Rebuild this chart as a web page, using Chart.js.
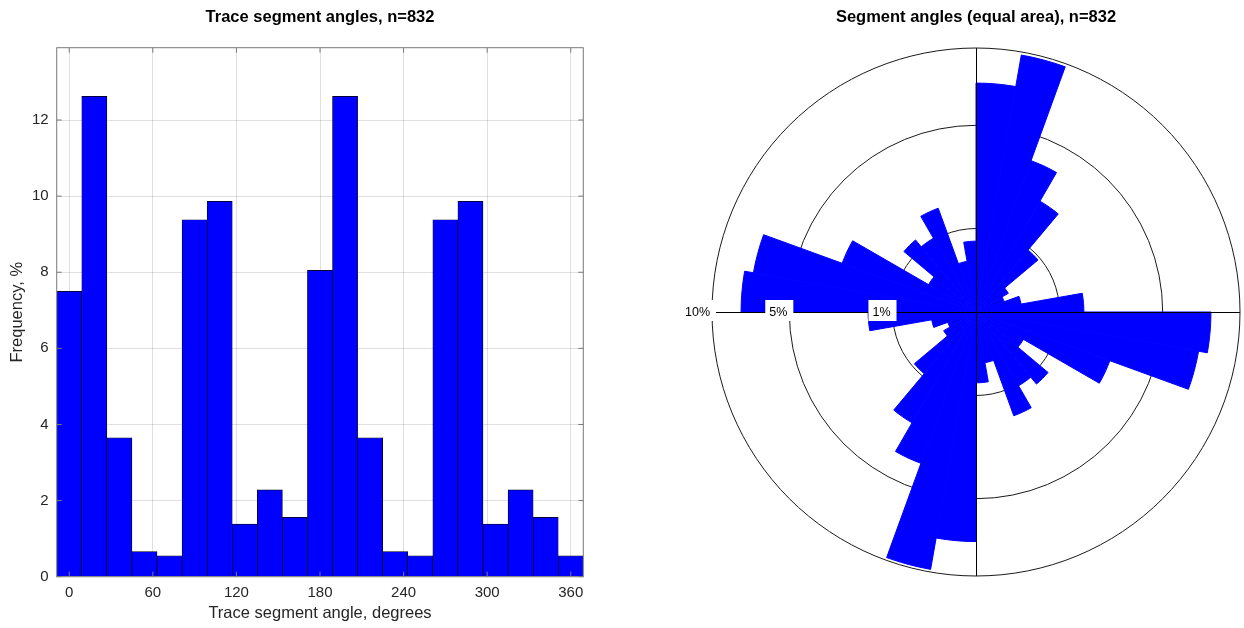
<!DOCTYPE html>
<html><head><meta charset="utf-8">
<script src="https://cdn.jsdelivr.net/npm/chart.js@4.4.0/dist/chart.umd.min.js"></script>
<style>
html,body{margin:0;padding:0;background:#fff;}
body{width:1244px;height:628px;position:relative;overflow:hidden;}
canvas{position:absolute;top:0;}
#hist{left:0;}
#rose{left:620px;}
</style></head><body>
<canvas id="hist" width="640" height="628"></canvas>
<canvas id="rose" width="624" height="628"></canvas>
<script>
const FONT = "'Liberation Sans', Arial, Helvetica, sans-serif";

// ---- data ----
const histTitle = 'Trace segment angles, n=832';
const roseTitle = 'Segment angles (equal area), n=832';
const xAxisLabel = 'Trace segment angle, degrees';
const yAxisLabel = 'Frequency, %';

const histBinCenters = [0, 18, 36, 54, 72, 90, 108, 126, 144, 162, 180, 198, 216, 234, 252, 270, 288, 306, 324, 342, 360];
const histValues     = [7.5, 12.62, 3.65, 0.66, 0.55, 9.38, 9.86, 1.38, 2.28, 1.56, 8.05, 12.62, 3.65, 0.66, 0.55, 9.38, 9.86, 1.38, 2.28, 1.56, 0.55];
const xTickValues = [0, 60, 120, 180, 240, 300, 360];
const yTickValues = [0, 2, 4, 6, 8, 10, 12];

const roseBinStarts = [0, 10, 20, 30, 40, 50, 60, 70, 80, 90, 100, 110, 120, 130, 140, 150, 160, 170,
                       180, 190, 200, 210, 220, 230, 240, 250, 260, 270, 280, 290, 300, 310, 320, 330, 340, 350];
const roseValues = [7.52, 9.77, 3.72, 2.35, 0.94, 0.20, 0.13, 0.30, 1.67, 7.92, 7.33, 2.91, 0.43, 1.27, 1.04, 1.75, 0.38, 0.72,
                    7.56, 9.80, 3.72, 2.35, 0.93, 0.20, 0.13, 0.29, 1.67, 7.92, 7.33, 2.91, 0.43, 1.27, 1.04, 1.75, 0.38, 0.72];
const roseRingValues = [1, 5, 10];
const roseRingLabels = ['1%', '5%', '10%'];

// ---- histogram ----
const matlabBox = {
  id: 'matlabBox',
  afterDatasetsDraw(chart) {
    const {ctx, chartArea: a} = chart;
    const x = chart.scales.x, y = chart.scales.y;
    ctx.save();
    ctx.strokeStyle = '#7a7a7a';
    ctx.lineWidth = 1;
    ctx.strokeRect(a.left, a.top, a.right - a.left, a.bottom - a.top);
    ctx.beginPath();
    const L = 5;
    x.ticks.forEach(t => {
      const px = x.getPixelForValue(t.value);
      ctx.moveTo(px, a.bottom); ctx.lineTo(px, a.bottom - L);
      ctx.moveTo(px, a.top); ctx.lineTo(px, a.top + L);
    });
    y.ticks.forEach(t => {
      const py = y.getPixelForValue(t.value);
      ctx.moveTo(a.left, py); ctx.lineTo(a.left + L, py);
      ctx.moveTo(a.right, py); ctx.lineTo(a.right - L, py);
    });
    ctx.stroke();
    ctx.restore();
  }
};

new Chart(document.getElementById('hist'), {
  type: 'bar',
  data: {
    datasets: [{
      data: histBinCenters.map((c, i) => ({x: c, y: histValues[i]})),
      backgroundColor: '#0000ff',
      borderColor: '#000000',
      borderWidth: 0.7,
      barPercentage: 1,
      categoryPercentage: 1
    }]
  },
  options: {
    responsive: false,
    animation: false,
    events: [],
    layout: {padding: 0},
    plugins: {
      legend: {display: false},
      tooltip: {enabled: false},
      title: {
        display: true, text: histTitle, color: '#000',
        font: {family: FONT, size: 16.5, weight: 'bold'},
        padding: {top: 7.6, bottom: 20.3}
      }
    },
    scales: {
      x: {
        type: 'linear', min: -9, max: 369, offset: false,
        grid: {offset: false, color: 'rgba(38,38,38,0.15)', drawTicks: false},
        border: {display: false},
        ticks: {font: {family: FONT, size: 15}, color: '#262626', padding: 7, maxRotation: 0, autoSkip: false},
        afterBuildTicks: s => { s.ticks = xTickValues.map(v => ({value: v})); },
        afterFit: s => { s.height = 51.3; },
        title: {display: true, text: xAxisLabel, color: '#262626', font: {family: FONT, size: 16.5}, padding: {top: 0, bottom: 5}}
      },
      y: {
        type: 'linear', min: 0, max: 13.9,
        grid: {color: 'rgba(38,38,38,0.15)', drawTicks: false},
        border: {display: false},
        ticks: {font: {family: FONT, size: 15}, color: '#262626', padding: 8},
        afterBuildTicks: s => { s.ticks = yTickValues.map(v => ({value: v})); },
        afterFit: s => { s.width = 56.7; },
        title: {display: true, text: yAxisLabel, color: '#262626', font: {family: FONT, size: 16.5}, padding: {top: 8, bottom: 0}}
      },
      y2: {
        axis: 'y', type: 'linear', position: 'right', display: true,
        grid: {display: false}, border: {display: false}, ticks: {display: false},
        afterFit: s => { s.width = 56.7; }
      }
    }
  },
  plugins: [matlabBox]
});

// ---- rose (equal area: radius ~ sqrt(percent)) ----
const roseOverlay = {
  id: 'roseOverlay',
  afterDatasetsDraw(chart) {
    const r = chart.scales.r, ctx = chart.ctx;
    const cx = r.xCenter, cy = r.yCenter;
    const R = r.getDistanceFromCenterForValue(r.max);
    ctx.save();
    ctx.strokeStyle = '#000';
    ctx.lineWidth = 1;
    ctx.beginPath();
    ctx.moveTo(cx - R, cy + 0.5); ctx.lineTo(cx + R, cy + 0.5);
    ctx.moveTo(cx + 0.5, cy - R); ctx.lineTo(cx + 0.5, cy + R);
    ctx.stroke();
    ctx.font = `12.5px ${FONT}`;
    ctx.textAlign = 'right';
    ctx.textBaseline = 'middle';
    roseRingValues.forEach((v, i) => {
      const d = r.getDistanceFromCenterForValue(Math.sqrt(v));
      const xr = cx - d - 2;
      const w = ctx.measureText(roseRingLabels[i]).width;
      ctx.fillStyle = '#fff';
      ctx.fillRect(xr - w - 4, cy - 12, w + 10, 21);
      ctx.fillStyle = '#000';
      ctx.fillText(roseRingLabels[i], xr, cy + 1);
    });
    ctx.restore();
  }
};

new Chart(document.getElementById('rose'), {
  type: 'polarArea',
  data: {
    labels: roseBinStarts.map(s => s + '°'),
    datasets: [{
      data: roseValues.map(v => Math.sqrt(v)),
      backgroundColor: '#0000ff',
      borderColor: '#0000ff',
      borderWidth: 1
    }]
  },
  options: {
    responsive: false,
    animation: false,
    events: [],
    layout: {padding: {left: 92, right: 4, top: 0, bottom: 51}},
    plugins: {
      legend: {display: false},
      tooltip: {enabled: false},
      title: {
        display: true, text: roseTitle, color: '#000',
        font: {family: FONT, size: 16.5, weight: 'bold'},
        padding: {top: 7.6, bottom: 20.3}
      }
    },
    scales: {
      r: {
        type: 'radialLinear', min: 0, max: Math.sqrt(10), startAngle: 0,
        ticks: {display: false},
        afterBuildTicks: s => { s.ticks = [0].concat(roseRingValues).map(v => ({value: Math.sqrt(v)})); },
        grid: {circular: true, color: '#1a1a1a', lineWidth: 1},
        angleLines: {display: false},
        pointLabels: {display: false}
      }
    }
  },
  plugins: [roseOverlay]
});
</script>
</body></html>
